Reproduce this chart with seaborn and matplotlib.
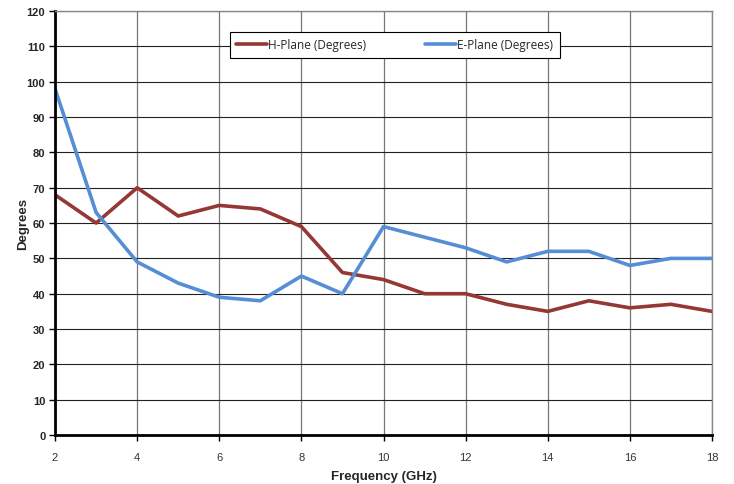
import pandas as pd
import matplotlib.pyplot as plt
import seaborn as sns

# values
freq_ghz = [2, 3, 4, 5, 6, 7, 8, 9, 10, 11, 12, 13, 14, 15, 16, 17, 18]
h_plane = [68, 60, 70, 62, 65, 64, 59, 46, 44, 40, 40, 37, 35, 38, 36, 37, 35]
e_plane = [98, 63, 49, 43, 39, 38, 45, 40, 59, 56, 53, 49, 52, 52, 48, 50, 50]
series_names = ["H-Plane (Degrees)", "E-Plane (Degrees)"]
x_ticks = [2, 4, 6, 8, 10, 12, 14, 16, 18]
y_ticks = list(range(0, 121, 10))

df = pd.DataFrame({
    "freq": freq_ghz * 2,
    "deg": h_plane + e_plane,
    "series": [series_names[0]] * len(freq_ghz) + [series_names[1]] * len(freq_ghz),
})

sns.set_style("white")
plt.rcParams["font.family"] = ["Liberation Sans", "DejaVu Sans"]

fig = plt.figure(figsize=(7.34, 4.85), dpi=100)
ax = fig.add_axes([0.075, 0.101, 0.895, 0.874])

palette = {series_names[0]: "#953735", series_names[1]: "#558ed5"}
sns.lineplot(data=df, x="freq", y="deg", hue="series", palette=palette,
             linewidth=2.6, ax=ax, legend=True)

ax.set_xlim(2, 18)
ax.set_ylim(0, 120)
ax.set_xticks(x_ticks)
ax.set_yticks(y_ticks)
ax.grid(True, axis="y", color="#222222", linewidth=0.8)
ax.grid(True, axis="x", color="#777777", linewidth=0.9)
ax.set_axisbelow(True)

for s in ["left", "bottom"]:
    ax.spines[s].set_color("black")
    ax.spines[s].set_linewidth(2)
for s in ["top", "right"]:
    ax.spines[s].set_color("#888888")
    ax.spines[s].set_linewidth(1)

ax.tick_params(axis="y", labelsize=8, length=4, width=1, color="black", direction="out", left=True, pad=3)
ax.tick_params(axis="x", labelsize=8, length=4, width=1, color="black", direction="out", bottom=True, pad=8)
for lbl in ax.get_yticklabels():
    lbl.set_fontweight("bold")
for lbl in ax.get_xticklabels():
    lbl.set_color("#333333")

ax.set_xlabel("Frequency (GHz)", fontsize=9.5, fontweight="bold", labelpad=6)
ax.set_ylabel("Degrees", fontsize=9.5, fontweight="bold", labelpad=-2)

leg = ax.legend(loc="upper left", bbox_to_anchor=(0.266, 0.951), ncol=2, frameon=True,
                fancybox=False, edgecolor="black", framealpha=1,
                handlelength=2.6, columnspacing=5.0, borderpad=0.55, handletextpad=0.1,
                borderaxespad=0, prop={"family": "Open Sans", "size": 8.5})
leg.get_frame().set_linewidth(0.8)

fig.savefig("out.png", dpi=100)
